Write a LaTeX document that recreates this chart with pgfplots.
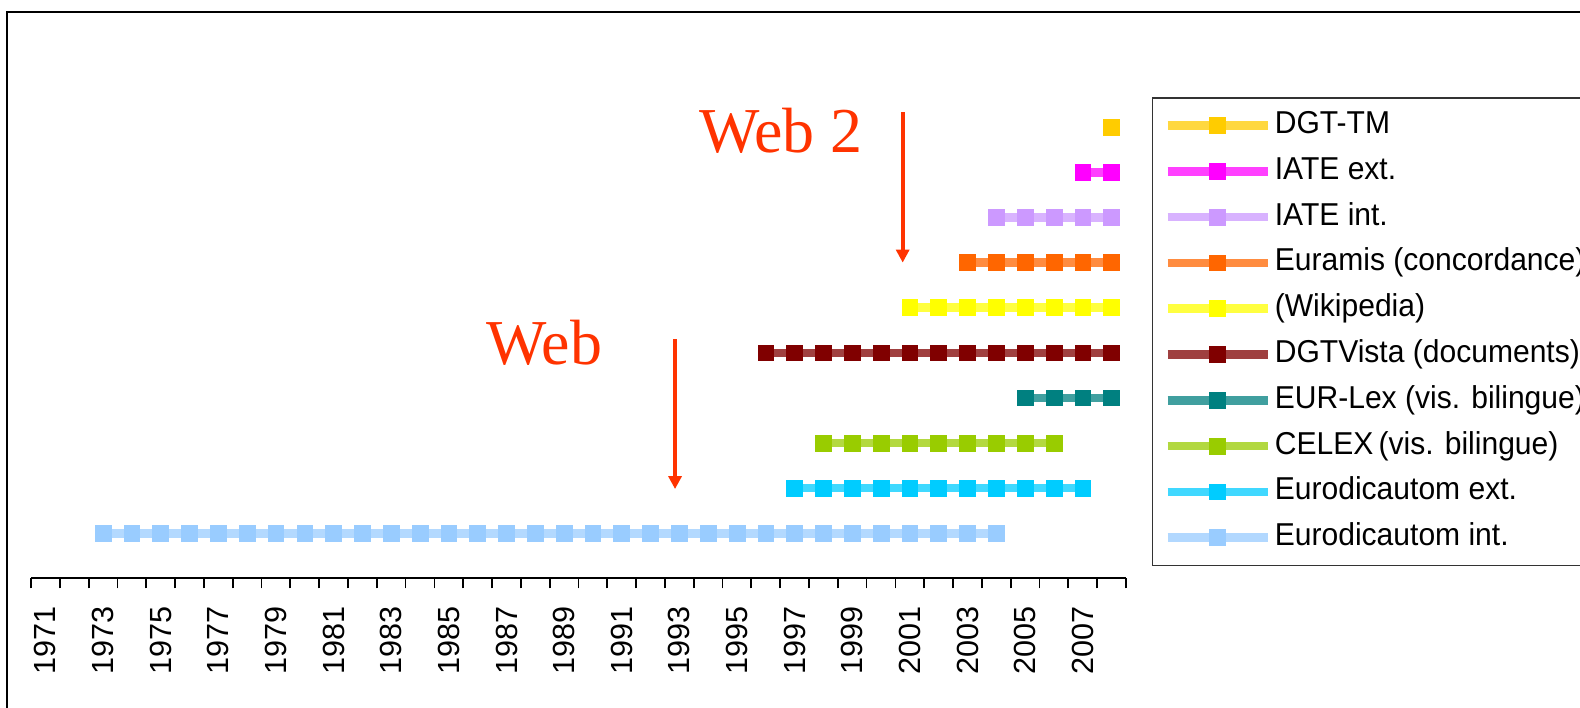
\documentclass[border=0pt]{standalone}
\usepackage{pgfplots}
\pgfplotsset{compat=1.18}
\usepackage{fontspec}
\setmainfont{Liberation Sans}
\newfontfamily\legfont[FakeStretch=0.95]{Liberation Sans}
\newfontfamily\seriffont{Liberation Serif}
\usetikzlibrary{arrows.meta}
\definecolor{cDGTTM}{HTML}{FFCC00}
\definecolor{cIATEext}{HTML}{FF00FF}
\definecolor{cIATEint}{HTML}{CC99FF}
\definecolor{cEuramis}{HTML}{FF6600}
\definecolor{cWiki}{HTML}{FFFF00}
\definecolor{cVista}{HTML}{800000}
\definecolor{cEURLex}{HTML}{008080}
\definecolor{cCELEX}{HTML}{99CC00}
\definecolor{cEdaExt}{HTML}{00CCFF}
\definecolor{cEdaInt}{HTML}{99CCFF}
\definecolor{webred}{HTML}{FF3300}
\pgfplotsset{ser/.style={color=#1, line width=0.85mm, draw opacity=0.75,
  mark=square*, mark size=0.79mm,
  mark options={solid, line width=0.2pt, draw=#1, fill=#1, opacity=1, draw opacity=1, fill opacity=1}}}
\begin{document}
\begin{tikzpicture}
\clip (0,0) rectangle (158mm,70.7mm);
\draw[line width=0.5pt, black] (0.73mm,69.53mm) rectangle (175mm,-5mm);
\begin{axis}[
  at={(3.1mm,12.86mm)}, anchor=south west,
  scale only axis, width=109.5mm, height=54.14mm,
  xmin=1970.5, xmax=2008.5, ymin=0, ymax=12,
  axis x line=bottom, axis y line=none,
  x axis line style={-, line width=0.6pt, black},
  xtick={1971,1973,...,2007},
  xticklabels={1971,1973,1975,1977,1979,1981,1983,1985,1987,1989,1991,1993,1995,1997,1999,2001,2003,2005,2007},
  minor xtick={1970.5,1971.5,...,2008.5},
  major tick length=0pt, minor tick length=1mm,
  tick align=outside,
  tick style={black, line width=0.5pt},
  xticklabel style={rotate=90, anchor=east, inner sep=0pt, font=\fontsize{8.7}{10}\selectfont},
  xticklabel shift=2.7mm,
  clip=false,
  reverse legend,
  legend cell align=left,
  legend image code/.code={\draw[#1, mark repeat=2, mark phase=2] plot coordinates {(0mm,0mm) (5mm,0mm) (10mm,0mm)};},
  legend style={at={(rel axis cs:1.0234,0.8886)}, anchor=north west,
    draw=black!80, line width=0.4pt, inner xsep=1.1mm, inner ysep=1.26mm,
    row sep=4.53pt, column sep=0.3mm,
    nodes={inner sep=0pt, text height=6.5pt, text depth=2pt, font=\legfont\fontsize{9}{10}\selectfont}},
]
\addplot[ser=cEdaInt] coordinates {(1973,1) (1974,1) (1975,1) (1976,1) (1977,1) (1978,1) (1979,1) (1980,1) (1981,1) (1982,1) (1983,1) (1984,1) (1985,1) (1986,1) (1987,1) (1988,1) (1989,1) (1990,1) (1991,1) (1992,1) (1993,1) (1994,1) (1995,1) (1996,1) (1997,1) (1998,1) (1999,1) (2000,1) (2001,1) (2002,1) (2003,1) (2004,1)};
\addlegendentry{Eurodicautom int.}
\addplot[ser=cEdaExt] coordinates {(1997,2) (1998,2) (1999,2) (2000,2) (2001,2) (2002,2) (2003,2) (2004,2) (2005,2) (2006,2) (2007,2)};
\addlegendentry{Eurodicautom ext.}
\addplot[ser=cCELEX] coordinates {(1998,3) (1999,3) (2000,3) (2001,3) (2002,3) (2003,3) (2004,3) (2005,3) (2006,3)};
\addlegendentry{CELEX\,(vis. bilingue)}
\addplot[ser=cEURLex] coordinates {(2005,4) (2006,4) (2007,4) (2008,4)};
\addlegendentry{EUR-Lex (vis. bilingue)}
\addplot[ser=cVista] coordinates {(1996,5) (1997,5) (1998,5) (1999,5) (2000,5) (2001,5) (2002,5) (2003,5) (2004,5) (2005,5) (2006,5) (2007,5) (2008,5)};
\addlegendentry{DGTVista (documents)}
\addplot[ser=cWiki] coordinates {(2001,6) (2002,6) (2003,6) (2004,6) (2005,6) (2006,6) (2007,6) (2008,6)};
\addlegendentry{(Wikipedia)}
\addplot[ser=cEuramis] coordinates {(2003,7) (2004,7) (2005,7) (2006,7) (2007,7) (2008,7)};
\addlegendentry{Euramis (concordance)}
\addplot[ser=cIATEint] coordinates {(2004,8) (2005,8) (2006,8) (2007,8) (2008,8)};
\addlegendentry{IATE int.}
\addplot[ser=cIATEext] coordinates {(2007,9) (2008,9)};
\addlegendentry{IATE ext.}
\addplot[ser=cDGTTM] coordinates {(2008,10)};
\addlegendentry{DGT-TM}
\draw[webred, line width=0.4mm, -{Triangle[width=1.3mm,length=1.3mm]}] (axis cs:1992.85,5.30) -- (axis cs:1992.85,1.98);
\draw[webred, line width=0.4mm, -{Triangle[width=1.3mm,length=1.3mm]}] (axis cs:2000.75,10.33) -- (axis cs:2000.75,7.0);
\node[anchor=base, inner sep=0pt, text=webred, font=\seriffont\fontsize{18.2}{20}\selectfont] at (axis cs:1988.32,4.74) {Web};
\node[anchor=base, inner sep=0pt, text=webred, font=\seriffont\fontsize{18.2}{20}\selectfont] at (axis cs:1996.53,9.43) {Web 2};
\end{axis}
\end{tikzpicture}
\end{document}
